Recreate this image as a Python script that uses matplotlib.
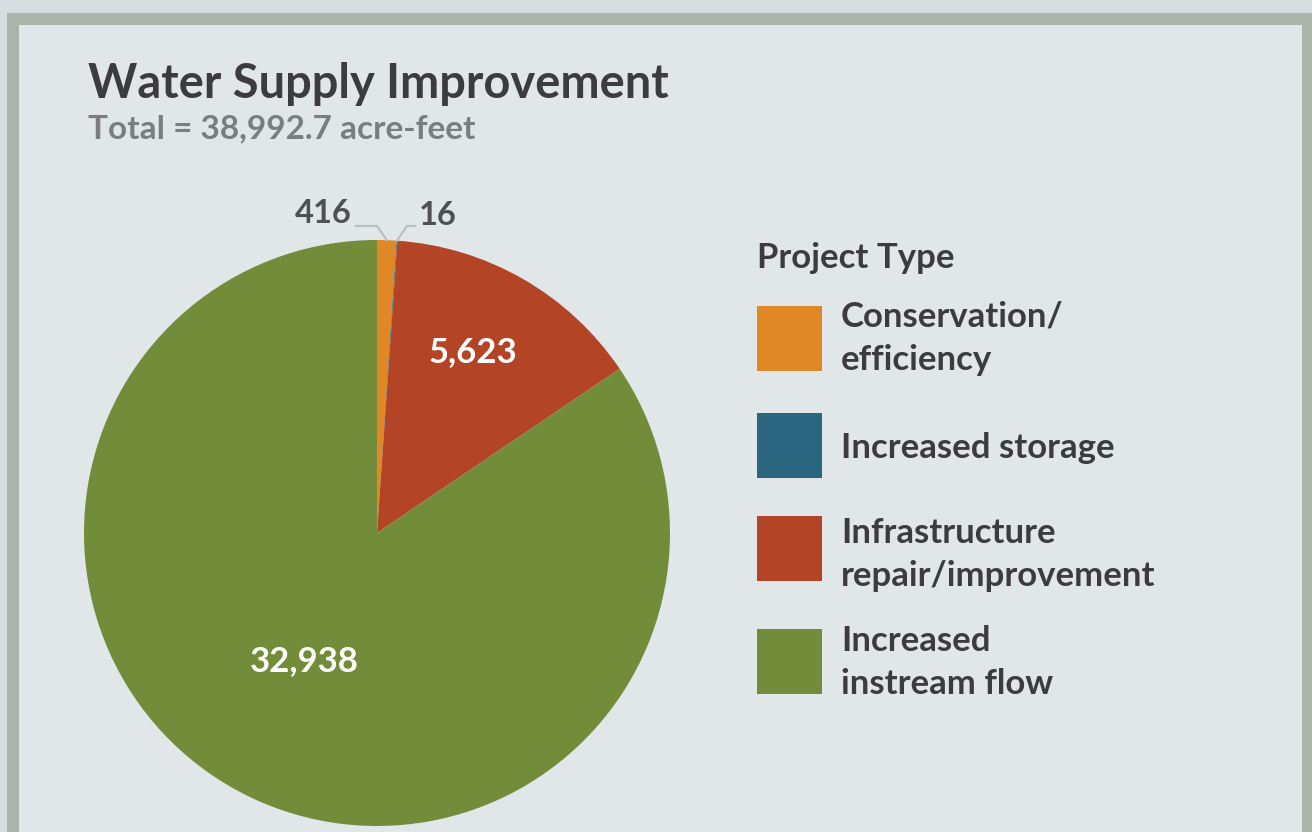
import matplotlib
matplotlib.use("Agg")
import matplotlib.pyplot as plt
from matplotlib.patches import Rectangle
import numpy as np

# ---- data ----
categories = ["Conservation/\nefficiency", "Increased storage",
              "Infrastructure\nrepair/improvement", "Increased\ninstream flow"]
values = [416, 16, 5623, 32938]
value_labels = ["416", "16", "5,623", "32,938"]
colors = ["#e08826", "#2a6680", "#b44426", "#728c3a"]
title = "Water Supply Improvement"
subtitle = "Total = 38,992.7 acre-feet"
legend_title = "Project Type"

W, H = 1312, 832
plt.rcParams['font.family'] = ['Lato', 'DejaVu Sans']
fig = plt.figure(figsize=(W / 100, H / 100), dpi=100)
fig.patch.set_facecolor("#d5dde0")

# overlay axes in pixel coordinates
bg = fig.add_axes([0, 0, 1, 1])
bg.set_xlim(0, W)
bg.set_ylim(H, 0)
bg.axis("off")
bg.add_patch(Rectangle((7, 13), W, H, facecolor="#aab4a8", edgecolor="none"))
bg.add_patch(Rectangle((19, 25), 1283, H, facecolor="#e1e6e9", edgecolor="none"))

dark = "#3c3c3e"
bg.text(88, 84, title, fontsize=33.8, fontweight="bold", color=dark, va="center", ha="left")
bg.text(88, 129, subtitle, fontsize=24, fontweight="bold", color="#7b7d7f", va="center", ha="left")

# pie
cx, cy, r = 377, 533, 293
ax = fig.add_axes([(cx - r) / W, (H - cy - r) / H, 2 * r / W, 2 * r / H])
ax.axis("off")
wedges, _ = ax.pie(values, colors=colors, startangle=90, counterclock=False,
                   radius=1, wedgeprops=dict(linewidth=0))
ax.set_xlim(-1, 1)
ax.set_ylim(-1, 1)

total = sum(values)
# inside labels for big slices
inside_pos = {2: (0.327, 0.617), 3: (-0.25, -0.438)}
for i, (px, py) in inside_pos.items():
    ax.text(px, py, value_labels[i], color="white", fontsize=25, fontweight="bold",
            ha="center", va="center")

# leader labels for small slices
def mid_angle(i):
    start = 90 - sum(values[:i]) / total * 360
    end = 90 - sum(values[:i + 1]) / total * 360
    return np.deg2rad((start + end) / 2)

lead = {0: (-0.0, -0.072, -0.182, 1.092, "center"),
        1: (0.102, 0.130, 0.208, 1.085, "center")}
for i, (ex, hx, lx, ly, ha) in lead.items():
    a = mid_angle(i)
    x0, y0 = np.cos(a), np.sin(a)
    ax.plot([x0, ex, hx], [y0, 1.048, 1.048], color="#b9bfc2", lw=1.5, clip_on=False)
    ax.text(lx, ly, value_labels[i], color="#4f5052", fontsize=23.5, fontweight="bold",
            ha=ha, va="center", clip_on=False)

# legend
bg.text(757, 258, legend_title, fontsize=25, fontweight="bold", color=dark, va="center", ha="left")
sq_tops = [306, 413, 516, 629]
first_baseline = [20, 45, 27, 22]
line_gap = 43.5
for i, (lab, col) in enumerate(zip(categories, colors)):
    t = sq_tops[i]
    bg.add_patch(Rectangle((757, t), 65, 65, facecolor=col, edgecolor="none"))
    for k, line in enumerate(lab.split("\n")):
        bg.text(841, t + first_baseline[i] + k * line_gap, line, fontsize=25,
                fontweight="bold", color=dark, va="baseline", ha="left")

fig.savefig("out.png", dpi=100, facecolor=fig.get_facecolor())
